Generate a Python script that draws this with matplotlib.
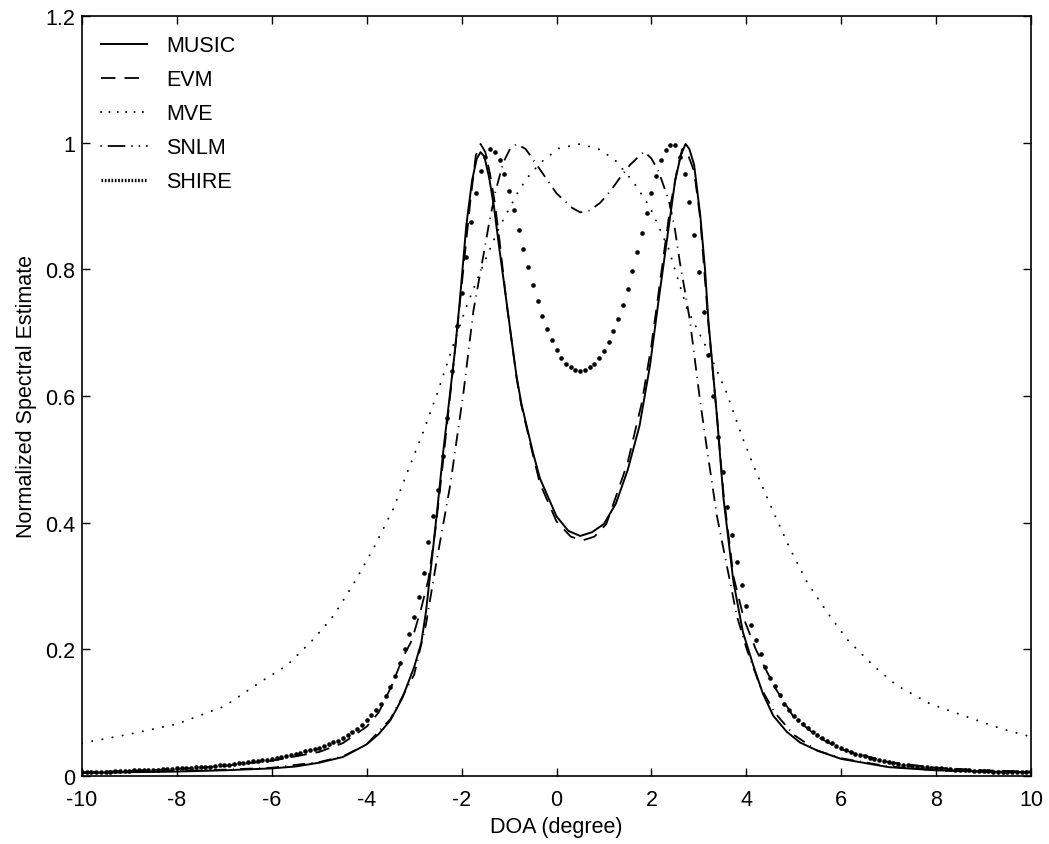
import numpy as np
import matplotlib
matplotlib.use("Agg")
import matplotlib.pyplot as plt
from matplotlib.lines import Line2D

plt.rcParams['font.family'] = ['Liberation Sans', 'DejaVu Sans']
plt.rcParams['axes.unicode_minus'] = False

# ---------------- data ----------------
music_doa = [-10, -9, -8, -7, -6, -5.5, -5, -4.5, -4.0, -3.75, -3.5, -3.25, -3.0, -2.85,
             -2.75, -2.6, -2.5, -2.38, -2.25, -2.15, -2.05, -1.9, -1.78, -1.68, -1.6,
             -1.52, -1.42, -1.32, -1.2, -1.1, -0.95, -0.84, -0.74, -0.63, -0.5, -0.35,
             0.0, 0.25, 0.5, 0.75, 1.0, 1.25, 1.5, 1.75, 1.97, 2.15, 2.33, 2.5, 2.62,
             2.72, 2.8, 2.9, 3.03, 3.13, 3.2, 3.38, 3.52, 3.73, 3.93, 4.15, 4.35, 4.57,
             4.85, 5.13, 5.5, 6.0, 7.0, 8.0, 9.0, 10.0]
music_val = [0.005, 0.006, 0.007, 0.009, 0.012, 0.015, 0.021, 0.030, 0.050, 0.066, 0.088,
             0.123, 0.172, 0.210, 0.260, 0.360, 0.430, 0.517, 0.600, 0.665, 0.740, 0.870,
             0.940, 0.975, 0.985, 0.978, 0.945, 0.900, 0.830, 0.775, 0.690, 0.630, 0.588,
             0.553, 0.512, 0.470, 0.410, 0.387, 0.379, 0.385, 0.398, 0.430, 0.483, 0.553,
             0.648, 0.750, 0.848, 0.940, 0.980, 0.998, 0.990, 0.965, 0.885, 0.800, 0.720,
             0.569, 0.438, 0.306, 0.227, 0.174, 0.130, 0.095, 0.070, 0.053, 0.040, 0.027,
             0.014, 0.009, 0.007, 0.006]

evm_doa = [-10, -9, -8, -7, -6, -5, -4.5, -4.0, -3.75, -3.47, -3.25, -3.05, -2.85, -2.7,
           -2.55, -2.4, -2.25, -2.1, -1.95, -1.82, -1.7, -1.6, -1.5, -1.4, -1.3, -1.2,
           -1.05, -0.95, -0.84, -0.74, -0.63, -0.5, -0.35, 0.0, 0.3, 0.55, 0.8, 1.05,
           1.27, 1.5, 1.8, 2.0, 2.2, 2.4, 2.55, 2.65, 2.75, 2.9, 3.03, 3.2, 3.38, 3.52,
           3.73, 3.95, 4.2, 4.4, 4.6, 5.0, 5.5, 6.0, 7.0, 8.0, 9.0, 10.0]
evm_val = [0.006, 0.008, 0.011, 0.016, 0.024, 0.038, 0.052, 0.078, 0.100, 0.143, 0.185,
           0.214, 0.265, 0.310, 0.390, 0.490, 0.595, 0.700, 0.810, 0.905, 0.980, 0.998,
           0.985, 0.950, 0.905, 0.845, 0.745, 0.690, 0.628, 0.585, 0.550, 0.508, 0.462,
           0.402, 0.378, 0.372, 0.378, 0.398, 0.445, 0.495, 0.590, 0.680, 0.790, 0.900,
           0.960, 0.990, 0.985, 0.955, 0.880, 0.715, 0.570, 0.445, 0.315, 0.248, 0.200,
           0.170, 0.140, 0.093, 0.062, 0.042, 0.022, 0.013, 0.009, 0.007]

mve_doa = [-10, -9, -8, -7, -6.25, -5.69, -5.12, -4.7, -4.28, -3.86, -3.44, -3.09, -2.81,
           -2.5, -2.2, -1.89, -1.5, -1.19, -0.98, -0.79, -0.55, -0.28, 0.05, 0.5, 0.92,
           1.24, 1.62, 1.97, 2.36, 2.75, 3.24, 3.58, 3.93, 4.18, 4.57, 4.92, 5.28, 5.7,
           6.12, 6.68, 7.17, 7.87, 8.78, 9.4, 10.0]
mve_val = [0.052, 0.066, 0.082, 0.110, 0.148, 0.174, 0.216, 0.253, 0.303, 0.359, 0.422,
           0.490, 0.543, 0.607, 0.675, 0.743, 0.815, 0.869, 0.898, 0.925, 0.951, 0.972,
           0.991, 0.998, 0.989, 0.972, 0.938, 0.898, 0.833, 0.738, 0.664, 0.606, 0.532,
           0.485, 0.417, 0.359, 0.306, 0.259, 0.216, 0.174, 0.143, 0.114, 0.090, 0.074,
           0.062]

snlm_doa = [-10, -9, -8, -7, -6, -5, -4.5, -4.0, -3.5, -3.0, -2.75, -2.53, -2.24, -1.96,
            -1.75, -1.54, -1.43, -1.29, -1.12, -0.98, -0.84, -0.65, -0.37, 0.0, 0.33,
            0.5, 0.7, 0.92, 1.15, 1.34, 1.55, 1.76, 1.85, 2.0, 2.15, 2.37, 2.49, 2.6,
            2.71, 2.81, 3.02, 3.17, 3.38, 3.59, 3.8, 4.01, 4.3, 4.6, 5.0, 5.5, 6.0, 7.0,
            8.0, 9.0, 10.0]
snlm_val = [0.005, 0.006, 0.008, 0.010, 0.013, 0.022, 0.031, 0.050, 0.090, 0.160, 0.240,
            0.338, 0.459, 0.606, 0.735, 0.822, 0.869, 0.922, 0.969, 0.990, 0.998, 0.990,
            0.960, 0.920, 0.897, 0.890, 0.893, 0.905, 0.925, 0.945, 0.965, 0.980, 0.986,
            0.975, 0.955, 0.908, 0.866, 0.811, 0.764, 0.720, 0.596, 0.517, 0.411, 0.332,
            0.253, 0.200, 0.140, 0.100, 0.065, 0.040, 0.028, 0.015, 0.009, 0.007, 0.006]

shire_doa = np.linspace(-10, 10, 201)
shire_val = [
    0.006, 0.006, 0.006, 0.007, 0.007, 0.007, 0.007, 0.008, 0.008, 0.008,
    0.008, 0.009, 0.009, 0.009, 0.010, 0.010, 0.010, 0.011, 0.011, 0.011,
    0.012, 0.012, 0.013, 0.013, 0.014, 0.014, 0.015, 0.015, 0.016, 0.017,
    0.017, 0.018, 0.019, 0.020, 0.021, 0.022, 0.023, 0.024, 0.025, 0.026,
    0.027, 0.029, 0.030, 0.032, 0.033, 0.035, 0.037, 0.039, 0.041, 0.043,
    0.045, 0.047, 0.050, 0.053, 0.056, 0.060, 0.064, 0.069, 0.075, 0.081,
    0.088, 0.096, 0.104, 0.114, 0.126, 0.140, 0.158, 0.178, 0.200, 0.224,
    0.251, 0.283, 0.320, 0.370, 0.410, 0.452, 0.505, 0.565, 0.640, 0.711,
    0.762, 0.820, 0.875, 0.920, 0.955, 0.977, 0.990, 0.986, 0.972, 0.950,
    0.923, 0.894, 0.862, 0.832, 0.803, 0.776, 0.750, 0.727, 0.706, 0.688,
    0.673, 0.660, 0.651, 0.645, 0.641, 0.640, 0.641, 0.645, 0.651, 0.660,
    0.671, 0.686, 0.703, 0.722, 0.744, 0.769, 0.797, 0.827, 0.858, 0.889,
    0.920, 0.948, 0.972, 0.988, 0.997, 0.996, 0.978, 0.950, 0.907, 0.855,
    0.795, 0.732, 0.665, 0.600, 0.535, 0.480, 0.425, 0.380, 0.338, 0.301,
    0.268, 0.239, 0.214, 0.192, 0.172, 0.155, 0.142, 0.128, 0.114, 0.104,
    0.095, 0.089, 0.082, 0.076, 0.070, 0.065, 0.060, 0.056, 0.052, 0.048,
    0.044, 0.041, 0.038, 0.035, 0.033, 0.031, 0.029, 0.027, 0.025, 0.024,
    0.022, 0.021, 0.019, 0.018, 0.017, 0.016, 0.015, 0.015, 0.014, 0.013,
    0.012, 0.012, 0.011, 0.011, 0.010, 0.010, 0.009, 0.009, 0.008, 0.008,
    0.008, 0.008, 0.007, 0.007, 0.007, 0.007, 0.007, 0.007, 0.007, 0.007,
    0.007]

series_names = ["MUSIC", "EVM", "MVE", "SNLM", "SHIRE"]
x_ticks = [-10, -8, -6, -4, -2, 0, 2, 4, 6, 8, 10]
y_ticks = [0, 0.2, 0.4, 0.6, 0.8, 1.0, 1.2]
y_tick_labels = ["0", "0.2", "0.4", "0.6", "0.8", "1", "1.2"]

# ---------------- figure ----------------
fig = plt.figure(figsize=(10.49, 8.45), dpi=100)
ax = fig.add_axes([82 / 1049, 1 - 777 / 845, (1031 - 82) / 1049, (777 - 17) / 845])

FS = 15.5
ax.plot(music_doa, music_val, color='k', lw=1.4, linestyle='-')
ax.plot(evm_doa, evm_val, color='k', lw=1.3, linestyle=(0, (8, 5)))
ax.plot(mve_doa, mve_val, color='k', lw=1.4, linestyle=(0, (0.1, 5.2)),
        dash_capstyle='round')
ax.plot(snlm_doa, snlm_val, color='k', lw=1.3, linestyle=(0, (7, 3.5, 0.6, 3.5)))
ax.plot(shire_doa, shire_val, color='k', linestyle='none', marker='o', ms=3.3,
        markeredgewidth=0)

handles = [
    Line2D([], [], color='k', lw=1.4, linestyle='-'),
    Line2D([], [], color='k', lw=1.3, linestyle=(0, (8, 5))),
    Line2D([], [], color='k', lw=1.4, linestyle=(0, (0.1, 4.2)), dash_capstyle='round'),
    Line2D([], [], color='k', lw=1.3, linestyle=(0, (0.1, 4.0, 9, 4.0, 0.1, 4.0)),
           dash_capstyle='round'),
    Line2D([], [], color='k', lw=2.4, linestyle=(0, (0.5, 0.5))),
]
leg = ax.legend(handles, series_names, loc='upper left', frameon=False,
                fontsize=FS, handlelength=2.1, handletextpad=0.9,
                labelspacing=0.6, borderaxespad=0.5, borderpad=0.4)

ax.set_xlim(-10, 10)
ax.set_ylim(0, 1.2)
ax.set_xticks(x_ticks)
ax.set_xticklabels([str(v) for v in x_ticks])
ax.set_yticks(y_ticks)
ax.set_yticklabels(y_tick_labels)
ax.tick_params(direction='in', length=6, width=1.0, top=True, right=True,
               labelsize=FS)
ax.tick_params(axis='x', pad=9)
ax.tick_params(axis='y', pad=5)
for s in ax.spines.values():
    s.set_linewidth(1.2)

ax.set_xlabel("DOA (degree)", fontsize=FS, labelpad=5)
ax.set_ylabel("Normalized Spectral Estimate", fontsize=FS, labelpad=6)

fig.savefig("out.png", dpi=100)
